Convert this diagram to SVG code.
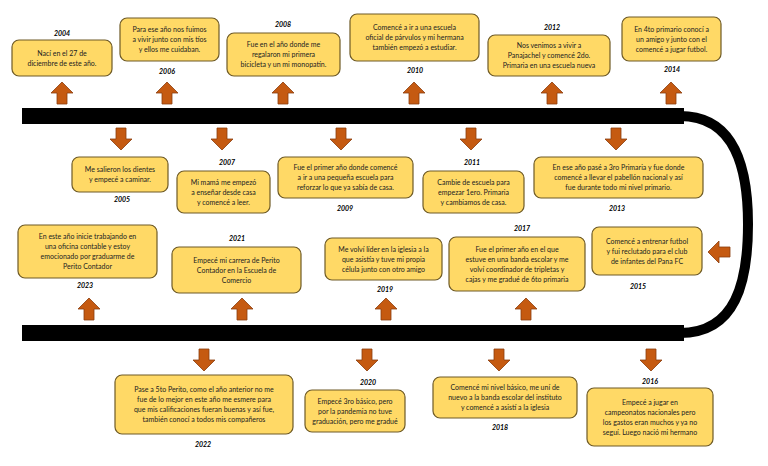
<svg xmlns="http://www.w3.org/2000/svg" width="768" height="466" viewBox="0 0 768 466">
<defs>
<style>
.box{fill:#FFD966;stroke:#6e5a26;stroke-width:1.2}
.t{font-family:Lato,"Open Sans","Liberation Sans",sans-serif;font-size:7px;fill:#222;text-anchor:middle}
.y{font-family:Lato,"Open Sans","Liberation Sans",sans-serif;font-size:7px;font-weight:bold;font-style:italic;fill:#000;text-anchor:middle}
.arr{fill:#C55A11;stroke:#8a3c0c;stroke-width:0.8}
</style>
<path id="au" d="M0,0 L11,11 L5,11 L5,22 L-5,22 L-5,11 L-11,11 Z"/>
</defs>
<rect width="768" height="466" fill="#fff"/>
<g id="connectors">
<path d="M22,116 H684" stroke="#000" stroke-width="16" fill="none"/>
<path d="M22,333 H684" stroke="#000" stroke-width="16" fill="none"/>
<path d="M680,116 C736,116 748,170 748,224 C748,282 736,333 680,333" stroke="#000" stroke-width="10" fill="none"/>
<use href="#au" class="arr" transform="translate(62,82)"/>
<use href="#au" class="arr" transform="translate(167,82)"/>
<use href="#au" class="arr" transform="translate(283,82)"/>
<use href="#au" class="arr" transform="translate(414,82)"/>
<use href="#au" class="arr" transform="translate(552,82)"/>
<use href="#au" class="arr" transform="translate(671,82)"/>
<use href="#au" class="arr" transform="translate(121,150) rotate(180)"/>
<use href="#au" class="arr" transform="translate(222,150) rotate(180)"/>
<use href="#au" class="arr" transform="translate(341,150) rotate(180)"/>
<use href="#au" class="arr" transform="translate(471,150) rotate(180)"/>
<use href="#au" class="arr" transform="translate(616,150) rotate(180)"/>
<use href="#au" class="arr" transform="translate(89,298)"/>
<use href="#au" class="arr" transform="translate(242,298)"/>
<use href="#au" class="arr" transform="translate(386,298)"/>
<use href="#au" class="arr" transform="translate(526,298)"/>
<use href="#au" class="arr" transform="translate(708,252) rotate(-90)"/>
<use href="#au" class="arr" transform="translate(204,371) rotate(180)"/>
<use href="#au" class="arr" transform="translate(367,371) rotate(180)"/>
<use href="#au" class="arr" transform="translate(499,371) rotate(180)"/>
<use href="#au" class="arr" transform="translate(651,371) rotate(180)"/>
</g>
<g id="n2004"><rect class="box" x="12" y="40" width="100" height="36" rx="7"/>
<text class="y" x="62" y="36">2004</text>
<text class="t" x="62" y="55.5">Nací en el 27 de</text><text class="t" x="62" y="65.5">diciembre de este año.</text></g>
<g id="n2006"><rect class="box" x="120" y="18" width="99" height="43" rx="7"/>
<text class="y" x="167" y="74">2006</text>
<text class="t" x="169.5" y="32">Para ese año nos fuimos</text><text class="t" x="169.5" y="42">a vivir junto con mis tíos</text><text class="t" x="169.5" y="52">y ellos me cuidaban.</text></g>
<g id="n2008"><rect class="box" x="227" y="33" width="113" height="43" rx="7"/>
<text class="y" x="283" y="27">2008</text>
<text class="t" x="283.5" y="47">Fue en el año donde me</text><text class="t" x="283.5" y="57">regalaron mi primera</text><text class="t" x="283.5" y="67">bicicleta y un mi monopatín.</text></g>
<g id="n2010"><rect class="box" x="350" y="14" width="129" height="47" rx="7"/>
<text class="y" x="415" y="73">2010</text>
<text class="t" x="414.5" y="30">Comencé a ir a una escuela</text><text class="t" x="414.5" y="40">oficial de párvulos y mi hermana</text><text class="t" x="414.5" y="50">también empezó a estudiar.</text></g>
<g id="n2012"><rect class="box" x="488" y="35" width="122" height="41" rx="7"/>
<text class="y" x="552" y="30">2012</text>
<text class="t" x="549" y="48">Nos venimos a vivir a</text><text class="t" x="549" y="58">Panajachel y comencé 2do.</text><text class="t" x="549" y="68">Primaria en una escuela nueva</text></g>
<g id="n2014"><rect class="box" x="622" y="17" width="99" height="44" rx="7"/>
<text class="y" x="672" y="72">2014</text>
<text class="t" x="671.5" y="31.5">En 4to primario conocí a</text><text class="t" x="671.5" y="41.5">un amigo y junto con el</text><text class="t" x="671.5" y="51.5">comencé a jugar futbol.</text></g>
<g id="n2005"><rect class="box" x="72" y="157" width="96" height="35" rx="7"/>
<text class="y" x="122" y="202">2005</text>
<text class="t" x="120" y="172">Me salieron los dientes</text><text class="t" x="120" y="182">y empecé a caminar.</text></g>
<g id="n2007"><rect class="box" x="177" y="171" width="93" height="42" rx="7"/>
<text class="y" x="227" y="165">2007</text>
<text class="t" x="223.5" y="184.5">Mi mamá me empezó</text><text class="t" x="223.5" y="194.5">a enseñar desde casa</text><text class="t" x="223.5" y="204.5">y comencé a leer.</text></g>
<g id="n2009"><rect class="box" x="278" y="157" width="135" height="41" rx="7"/>
<text class="y" x="345" y="211">2009</text>
<text class="t" x="345.5" y="170">Fue el primer año donde comencé</text><text class="t" x="345.5" y="180">a ir a una pequeña escuela para</text><text class="t" x="345.5" y="190">reforzar lo que ya sabía de casa.</text></g>
<g id="n2011"><rect class="box" x="423" y="171" width="101" height="42" rx="7"/>
<text class="y" x="472" y="165">2011</text>
<text class="t" x="473.5" y="184.5">Cambie de escuela para</text><text class="t" x="473.5" y="194.5">empezar 1ero. Primaria</text><text class="t" x="473.5" y="204.5">y cambiamos de casa.</text></g>
<g id="n2013"><rect class="box" x="534" y="157" width="169" height="41" rx="7"/>
<text class="y" x="617" y="211">2013</text>
<text class="t" x="618.5" y="170">En ese año pasé a 3ro Primaria y fue donde</text><text class="t" x="618.5" y="180">comencé a llevar el pabellón nacional y así</text><text class="t" x="618.5" y="190">fue durante todo mi nivel primario.</text></g>
<g id="n2023"><rect class="box" x="18" y="225" width="139" height="53" rx="7"/>
<text class="y" x="85" y="288">2023</text>
<text class="t" x="87.5" y="239">En este año inicie trabajando en</text><text class="t" x="87.5" y="249">una oficina contable y estoy</text><text class="t" x="87.5" y="259">emocionado por graduarme de</text><text class="t" x="87.5" y="269">Perito Contador</text></g>
<g id="n2021"><rect class="box" x="172" y="247" width="129" height="46" rx="7"/>
<text class="y" x="237" y="241">2021</text>
<text class="t" x="236.5" y="262.5">Empecé mi carrera de Perito</text><text class="t" x="236.5" y="272.5">Contador en la Escuela de</text><text class="t" x="236.5" y="282.5">Comercio</text></g>
<g id="n2019"><rect class="box" x="325" y="238" width="117" height="42" rx="7"/>
<text class="y" x="385" y="292">2019</text>
<text class="t" x="383.5" y="251.5">Me volví líder en la iglesia a la</text><text class="t" x="383.5" y="261.5">que asistía y tuve mi propia</text><text class="t" x="383.5" y="271.5">célula junto con otro amigo</text></g>
<g id="n2017"><rect class="box" x="449" y="237" width="136" height="54" rx="7"/>
<text class="y" x="522" y="231">2017</text>
<text class="t" x="517" y="251.5">Fue el primer año en el que</text><text class="t" x="517" y="261.5">estuve en una banda escolar y me</text><text class="t" x="517" y="271.5">volví coordinador de tripletas y</text><text class="t" x="517" y="281.5">cajas y me gradué de 6to primaria</text></g>
<g id="n2015"><rect class="box" x="592" y="227" width="110" height="48" rx="7"/>
<text class="y" x="638" y="289">2015</text>
<text class="t" x="647" y="243.5">Comencé a entrenar futbol</text><text class="t" x="647" y="253.5">y fui reclutado para el club</text><text class="t" x="647" y="263.5">de infantes del Pana FC</text></g>
<g id="n2022"><rect class="box" x="115" y="375" width="178" height="59" rx="7"/>
<text class="y" x="203" y="447">2022</text>
<text class="t" x="204" y="392">Pase a 5to Perito, como el año anterior no me</text><text class="t" x="204" y="402">fue de lo mejor en este año me esmere para</text><text class="t" x="204" y="412">que mis calificaciones fueran buenas y así fue,</text><text class="t" x="204" y="422">también conocí a todos mis compañeros</text></g>
<g id="n2020"><rect class="box" x="305" y="390" width="100" height="42" rx="7"/>
<text class="y" x="368" y="385">2020</text>
<text class="t" x="355" y="403.5">Empecé 3ro básico, pero</text><text class="t" x="355" y="413.5">por la pandemia no tuve</text><text class="t" x="355" y="423.5">graduación, pero me gradué</text></g>
<g id="n2018"><rect class="box" x="433" y="377" width="144" height="41" rx="7"/>
<text class="y" x="500" y="430">2018</text>
<text class="t" x="505" y="390">Comencé mi nivel básico, me uní de</text><text class="t" x="505" y="400">nuevo a la banda escolar del instituto</text><text class="t" x="505" y="410">y comencé a asistí a la iglesia</text></g>
<g id="n2016"><rect class="box" x="587" y="388" width="126" height="58" rx="7"/>
<text class="y" x="650" y="384">2016</text>
<text class="t" x="650" y="404.5">Empecé a jugar en</text><text class="t" x="650" y="414.5">campeonatos nacionales pero</text><text class="t" x="650" y="424.5">los gastos eran muchos y ya no</text><text class="t" x="650" y="434.5">seguí. Luego nació mi hermano</text></g>
</svg>
